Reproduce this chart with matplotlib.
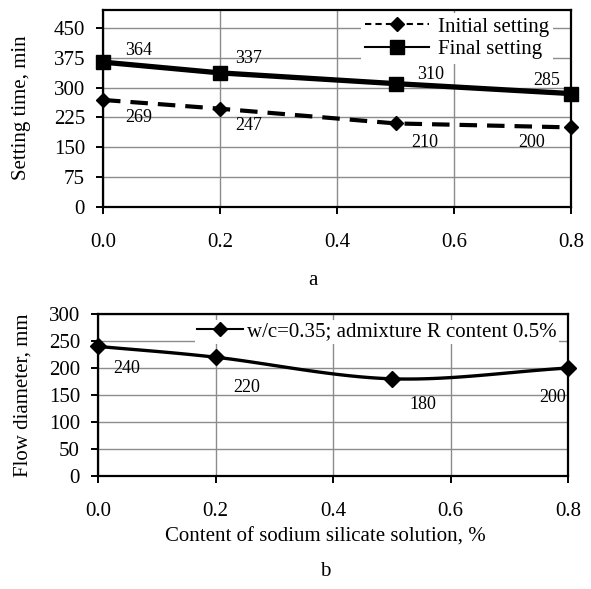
import numpy as np
import matplotlib
matplotlib.use("Agg")
import matplotlib.pyplot as plt

plt.rcParams['font.family'] = ['Liberation Serif', 'DejaVu Serif']

# Data
silicate = [0.0, 0.2, 0.5, 0.8]
initial_setting = [269, 247, 210, 200]
final_setting = [364, 337, 310, 285]
flow_diameter = [240, 220, 180, 200]

x_ticks = [0.0, 0.2, 0.4, 0.6, 0.8]
x_ticklabels = ["0.0", "0.2", "0.4", "0.6", "0.8"]
y_ticks_a = [0, 75, 150, 225, 300, 375, 450]
y_ticks_b = [0, 50, 100, 150, 200, 250, 300]

W, H = 591, 589
fig = plt.figure(figsize=(W / 100, H / 100), dpi=100)

TICK_FS = 15
LABEL_FS = 15
VALUE_FS = 13


def px_axes(l, t, r, b):
    return fig.add_axes([l / W, 1 - b / H, (r - l) / W, (b - t) / H])


def style_axes(ax, yticks):
    ax.set_xlim(0, 0.8)
    ax.set_xticks(x_ticks)
    ax.set_xticklabels(x_ticklabels)
    ax.set_yticks(yticks)
    ax.grid(True, color='#8c8c8c', linewidth=1.0)
    ax.set_axisbelow(True)
    for s in ax.spines.values():
        s.set_linewidth(1.6)
        s.set_color('black')
    ax.tick_params(axis='x', direction='out', length=5, width=1.4, pad=14, labelsize=TICK_FS)
    ax.tick_params(axis='y', direction='out', length=5, width=1.4, pad=8, labelsize=TICK_FS)
    ax.tick_params(top=False, right=False)


def smooth(xs, ys, n=40):
    # Cardinal (Catmull-Rom) spline through the data points
    xs = np.asarray(xs, float)
    ys = np.asarray(ys, float)
    px = np.concatenate([[2 * xs[0] - xs[1]], xs, [2 * xs[-1] - xs[-2]]])
    py = np.concatenate([[2 * ys[0] - ys[1]], ys, [2 * ys[-1] - ys[-2]]])
    ox, oy = [], []
    for i in range(1, len(px) - 2):
        t = np.linspace(0, 1, n)
        for arr, out in ((px, ox), (py, oy)):
            p0, p1, p2, p3 = arr[i - 1], arr[i], arr[i + 1], arr[i + 2]
            out.extend(0.5 * ((2 * p1) + (-p0 + p2) * t
                              + (2 * p0 - 5 * p1 + 4 * p2 - p3) * t ** 2
                              + (-p0 + 3 * p1 - 3 * p2 + p3) * t ** 3))
    return np.array(ox), np.array(oy)


# ---- Panel a: setting time ----
ax1 = px_axes(103, 10, 571, 207)
style_axes(ax1, y_ticks_a)
ax1.set_ylim(0, 495)
ax1.plot(silicate, initial_setting, color='black', linewidth=3.0,
         linestyle=(0, (4.2, 2.4)), marker='D', markersize=7.5,
         label='Initial setting', clip_on=False, zorder=3)
ax1.plot(silicate, final_setting, color='black', linewidth=3.8,
         marker='s', markersize=10.5, label='Final setting',
         clip_on=False, zorder=4)

fin_off = [(36, 12), (29, 14), (35, 9), (-24, 13)]
ini_off = [(36, -18), (29, -17), (29, -19), (-39, -15)]
for x, y, o in zip(silicate, final_setting, fin_off):
    ax1.annotate(str(y), (x, y), xytext=(o[0] * 0.72, o[1] * 0.72),
                 textcoords='offset points', ha='center', va='center', fontsize=VALUE_FS)
for x, y, o in zip(silicate, initial_setting, ini_off):
    ax1.annotate(str(y), (x, y), xytext=(o[0] * 0.72, o[1] * 0.72),
                 textcoords='offset points', ha='center', va='center', fontsize=VALUE_FS)

leg1 = ax1.legend(loc='upper right', bbox_to_anchor=(0.9615, 0.985), fontsize=TICK_FS,
                  frameon=True, framealpha=1.0, edgecolor='none', fancybox=False,
                  handlelength=3.1, handletextpad=0.4, borderpad=0.2,
                  labelspacing=0.15, borderaxespad=0.0)
for h in leg1.get_lines():
    h.set_linewidth(1.5)
leg1.get_lines()[0].set_linestyle((0, (3, 2)))

fig.text(22 / W, 1 - 108 / H, 'Setting time, min', rotation=90,
         ha='center', va='center', fontsize=LABEL_FS)
fig.text(313 / W, 1 - 281 / H, 'a', ha='center', va='center', fontsize=LABEL_FS)

# ---- Panel b: flow diameter ----
ax2 = px_axes(98, 314, 568, 476)
style_axes(ax2, y_ticks_b)
ax2.set_ylim(0, 300)
sx, sy = smooth(silicate, flow_diameter)
ax2.plot(sx, sy, color='black', linewidth=2.4, zorder=3, clip_on=False)
ax2.plot(silicate, flow_diameter, linestyle='none', marker='D', markersize=8,
         color='black', zorder=4, clip_on=False)
ax2.plot([], [], color='black', linewidth=1.5, marker='D', markersize=7,
         label='w/c=0.35; admixture R content 0.5%')

flow_off = [(29, -22), (31, -30), (31, -26), (-15, -29)]
for x, y, o in zip(silicate, flow_diameter, flow_off):
    ax2.annotate(str(y), (x, y), xytext=(o[0] * 0.72, o[1] * 0.72),
                 textcoords='offset points', ha='center', va='center', fontsize=VALUE_FS)

ax2.legend(loc='upper right', bbox_to_anchor=(0.981, 0.963), fontsize=TICK_FS,
           frameon=True, framealpha=1.0, edgecolor='none', fancybox=False,
           handlelength=2.2, handletextpad=0.2, borderpad=0.1,
           borderaxespad=0.0)

fig.text(23 / W, 1 - 395 / H, 'Flow diameter, mm', rotation=90,
         ha='center', va='center', fontsize=LABEL_FS)
fig.text(325 / W, 1 - 537 / H, 'Content of sodium silicate solution, %',
         ha='center', va='center', fontsize=LABEL_FS)
fig.text(325 / W, 1 - 572 / H, 'b', ha='center', va='center', fontsize=LABEL_FS)

fig.savefig('out.png', dpi=100, facecolor='white')
